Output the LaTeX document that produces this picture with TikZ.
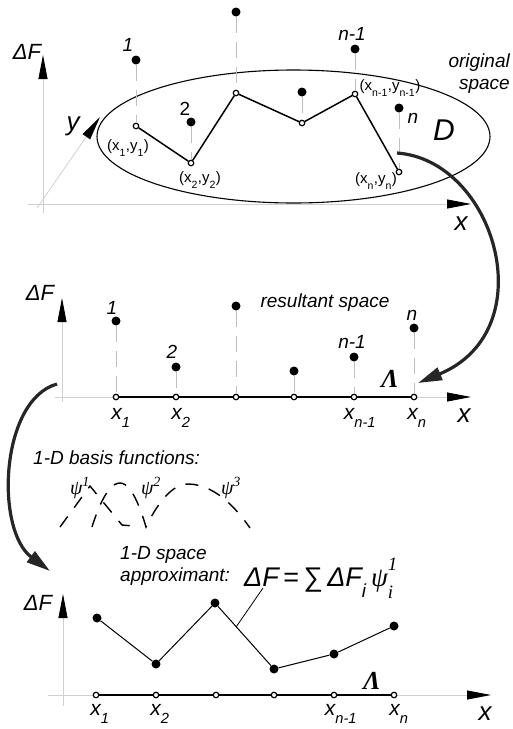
\documentclass[tikz,border=0pt]{standalone}
\usepackage{fontspec}
\setmainfont{Liberation Sans}
\newfontfamily\serifgr{Liberation Serif}
\usetikzlibrary{positioning,arrows.meta,calc,shapes.geometric}
\newcommand{\lsub}[1]{\raisebox{-0.25em}{\textsubscript{#1}}}

\begin{document}
\begin{tikzpicture}[
        x=1pt, y=-1pt,
        lbl/.style={font=\fontsize{19}{22}\selectfont\itshape, inner sep=0pt},
        dflbl/.style={font=\fontsize{22}{24}\selectfont\itshape, inner sep=0pt},
        axlbl/.style={font=\fontsize{26}{28}\selectfont\itshape, inner sep=0pt},
        xlbl/.style={font=\fontsize{21}{23}\selectfont\itshape, inner sep=0pt},
        coordlbl/.style={font=\fontsize{15}{17}\selectfont, inner sep=0pt},
        lam/.style={font=\fontsize{26}{28}\selectfont\serifgr\bfseries\itshape, inner sep=0pt},
        psilbl/.style={font=\fontsize{20}{22}\selectfont\serifgr\itshape, inner sep=0pt},
        axis/.style={draw=black!18, line width=0.8pt, -{Triangle[length=24pt, width=9pt, color=black]}},
        stem/.style={draw=black!25, line width=0.8pt, dash pattern=on 16pt off 9pt},
        value/.style={circle, fill=black, inner sep=0pt, minimum size=9pt},
        knot/.style={circle, draw=black, fill=white, line width=1.2pt, inner sep=0pt, minimum size=5.5pt},
        poly/.style={draw=black, line width=1.5pt},
        thinpoly/.style={draw=black, line width=1pt},
        segment/.style={draw=black, line width=2.6pt},
        flow/.style={draw=black!85, line width=3.2pt, -{Triangle[length=24pt, width=13pt]}},
        basis/.style={draw=black, line width=1.4pt, dash pattern=on 13pt off 11pt}
    ]
        \useasboundingbox (0,0) rectangle (512,729);

        % original space
        \coordinate (oB) at (43,213);
        \coordinate (oT) at (43,55);
        \coordinate (oL) at (28,204);
        \coordinate (oR) at (471,204);
        \coordinate (oY0) at (37,208);
        \coordinate (oY) at (100,117);
        \draw[axis] (oB) -- (oT);
        \draw[axis] (oL) -- (oR);
        \draw[axis] (oY0) -- (oY);
        \node[dflbl] (oF) at (27,52) {ΔF};
        \node[axlbl] (oylbl) at (73,126) {y};
        \node[axlbl] (oxlbl) at (461,224) {x};

        \node[ellipse, draw, line width=1.1pt, minimum width=393pt, minimum height=133pt] (dom) at (293.5,136.5) {};
        \node[axlbl, font=\fontsize{30}{32}\selectfont\itshape] (dlbl) at (444,130) {D};
        \node[lbl, align=right, anchor=east] (orig) at (510,74) {original\\space};

        \node[knot] (p1) at (136,126) {};
        \node[knot] (p2) at (191,163) {};
        \node[knot] (p3) at (236,93) {};
        \node[knot] (p4) at (302,123) {};
        \node[knot] (p5) at (355,94) {};
        \node[knot] (p6) at (399,172) {};
        \node[value] (v1) at (136,60) {};
        \node[value] (v2) at (191,122) {};
        \node[value] (v3) at (236,12) {};
        \node[value] (v4) at (302,92) {};
        \node[value] (v5) at (355,49) {};
        \node[value] (v6) at (399,108) {};
        \draw[stem] (v1) -- (p1);
        \draw[stem] (v2) -- (p2);
        \draw[stem] (v3) -- (p3);
        \draw[stem] (v4) -- (p4);
        \draw[stem] (v5) -- (p5);
        \draw[stem] (v6) -- (p6);
        \draw[poly] (p1) -- (p2) -- (p3) -- (p4) -- (p5) -- (p6);

        \node[lbl] (o1) at (128,45) {1};
        \node[lbl, font=\fontsize{19}{22}\selectfont] (o2) at (185,109) {2};
        \node[lbl] (on1) at (352,34) {n-1};
        \node[lbl] (on) at (413,118) {n};
        \node[coordlbl] (c1) at (128,148) {(x\lsub{1},y\lsub{1})};
        \node[coordlbl] (c2) at (200,180) {(x\lsub{2},y\lsub{2})};
        \node[coordlbl] (cn1) at (390,88) {(x\lsub{n-1},y\lsub{n-1})};
        \node[coordlbl] (cn) at (376,181) {(x\lsub{n},y\lsub{n})};

        % resultant space
        \coordinate (rB) at (62,402);
        \coordinate (rT) at (62,298);
        \coordinate (rL) at (55,397);
        \coordinate (rR) at (471,397);
        \draw[axis] (rB) -- (rT);
        \draw[axis] (rL) -- (rR);
        \node[dflbl] (rF) at (40,293) {ΔF};
        \node[lbl] (res) at (325,303) {resultant space};

        \node[knot] (r1) at (116,397) {};
        \node[knot] (r2) at (176,397) {};
        \node[knot] (r3) at (236,397) {};
        \node[knot] (r4) at (294,397) {};
        \node[knot] (r5) at (354,397) {};
        \node[knot] (r6) at (414,397) {};
        \node[value] (w1) at (116,321) {};
        \node[value] (w2) at (176,367) {};
        \node[value] (w3) at (236,306) {};
        \node[value] (w4) at (294,371) {};
        \node[value] (w5) at (354,357) {};
        \node[value] (w6) at (414,328) {};
        \draw[stem] (w1) -- (r1);
        \draw[stem] (w2) -- (r2);
        \draw[stem] (w3) -- (r3);
        \draw[stem] (w4) -- (r4);
        \draw[stem] (w5) -- (r5);
        \draw[stem] (w6) -- (r6);
        \draw[segment] (r1) -- (r2) -- (r3) -- (r4) -- (r5) -- (r6);

        \node[lbl] (m1) at (112,308) {1};
        \node[lbl] (m2) at (172,352) {2};
        \node[lbl] (mn1) at (352,342) {n-1};
        \node[lbl] (mn) at (412,315) {n};
        \node[lam] (rlam) at (390,379) {Λ};
        \node[xlbl] (rx1) at (121,418) {x\lsub{1}};
        \node[xlbl] (rx2) at (181,418) {x\lsub{2}};
        \node[xlbl] (rxn1) at (360,418) {x\lsub{n-1}};
        \node[xlbl] (rxn) at (417,418) {x\lsub{n}};
        \node[axlbl] (rxlbl) at (464,416) {x};

        % arrows between spaces
        \coordinate (fA) at (397,153);
        \coordinate (fAend) at (418,383);
        \draw[flow] (fA) .. controls (495,160) and (545,330) .. (fAend);
        \coordinate (fB) at (57,384);
        \coordinate (fBend) at (50,571);
        \draw[flow] (fB) .. controls (0,400) and (-5,530) .. (fBend);

        % basis functions
        \node[lbl, anchor=west] (bas) at (33,458) {1-D basis functions:};
        \node[psilbl] (psi1) at (80,488) {ψ\textsuperscript{1}};
        \node[psilbl] (psi2) at (151,488) {ψ\textsuperscript{2}};
        \node[psilbl] (psi3) at (231,488) {ψ\textsuperscript{3}};
        \draw[basis] (60,527) -- (90,486) -- (122,525) -- (133,526);
        \draw[basis] (92,527) parabola bend (120,483) (146,527) parabola bend (188,484) (250,528);

        % approximant
        \node[lbl, align=left, anchor=west] (appr) at (120,566) {1-D space\\approximant:};
        \node[font=\fontsize{27}{29}\selectfont, inner sep=0pt, anchor=west] (frm) at (244,578)
            {\itshape ΔF\upshape{}\,=\,∑\,\itshape ΔF\lsub{i}\,{\serifgr ψ\rlap{\raisebox{-0.3em}{\textsubscript{i}}}\raisebox{0.25em}{\textsuperscript{1}}}};

        \coordinate (aB) at (63,706);
        \coordinate (aT) at (63,594);
        \coordinate (aL) at (48,695);
        \coordinate (aR) at (491,695);
        \draw[axis] (aB) -- (aT);
        \draw[axis] (aL) -- (aR);
        \node[dflbl] (aF) at (38,603) {ΔF};

        \node[knot] (a1) at (96,695) {};
        \node[knot] (a2) at (156,695) {};
        \node[knot] (a3) at (216,695) {};
        \node[knot] (a4) at (274,695) {};
        \node[knot] (a5) at (334,695) {};
        \node[knot] (a6) at (394,695) {};
        \draw[segment] (a1) -- (a2) -- (a3) -- (a4) -- (a5) -- (a6);
        \node[value] (q1) at (97,618) {};
        \node[value] (q2) at (156,664) {};
        \node[value] (q3) at (215,603) {};
        \node[value] (q4) at (274,669) {};
        \node[value] (q5) at (334,654) {};
        \node[value] (q6) at (394,626) {};
        \draw[thinpoly] (q1) -- (q2) -- (q3) -- (q4) -- (q5) -- (q6);
        \coordinate (ldr) at (263,588);
        \coordinate (q34) at ($(q3)!0.36!(q4)$);
        \draw[line width=0.8pt] (ldr) -- (q34);

        \node[lam] (alam) at (372,681) {Λ};
        \node[xlbl] (ax1) at (100,714) {x\lsub{1}};
        \node[xlbl] (ax2) at (160,714) {x\lsub{2}};
        \node[xlbl] (axn1) at (341,714) {x\lsub{n-1}};
        \node[xlbl] (axn) at (399,714) {x\lsub{n}};
        \node[axlbl] (axlbl) at (485,714) {x};
    \end{tikzpicture}
\end{document}
